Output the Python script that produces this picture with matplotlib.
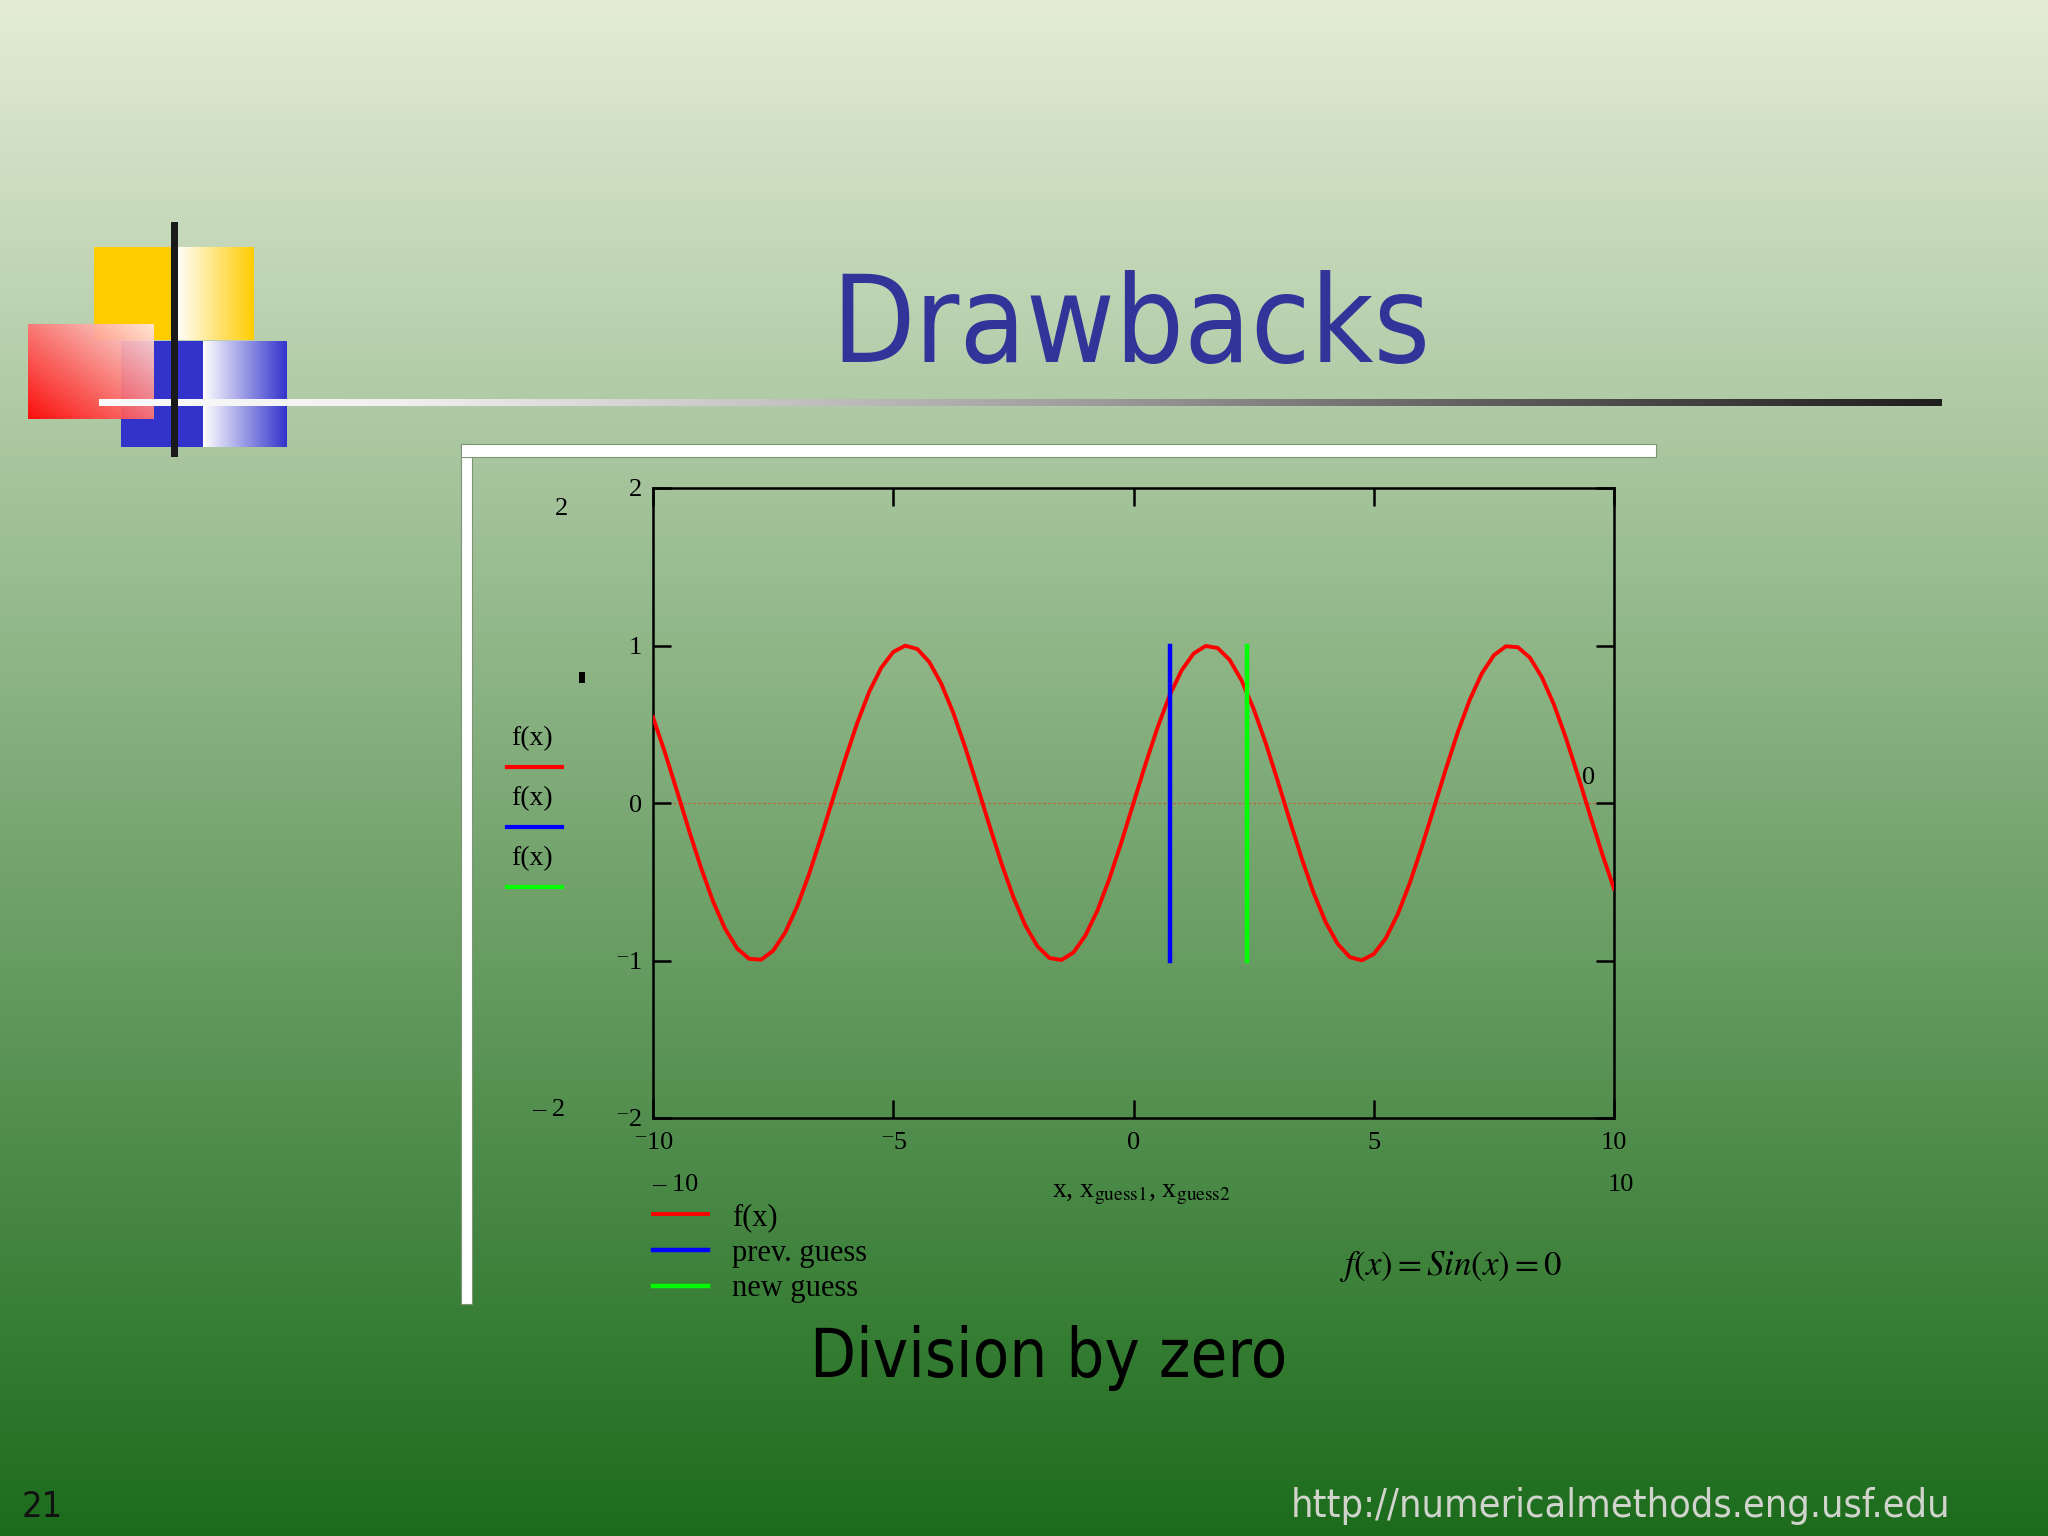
import numpy as np
import matplotlib
matplotlib.use("Agg")
import matplotlib.pyplot as plt
from matplotlib import font_manager as fm
from matplotlib.patches import Rectangle
from matplotlib.lines import Line2D

# ---------------- data ----------------
x_vals = [-10.0, -9.75, -9.5, -9.25, -9.0, -8.75, -8.5, -8.25, -8.0, -7.75,
          -7.5, -7.25, -7.0, -6.75, -6.5, -6.25, -6.0, -5.75, -5.5, -5.25,
          -5.0, -4.75, -4.5, -4.25, -4.0, -3.75, -3.5, -3.25, -3.0, -2.75,
          -2.5, -2.25, -2.0, -1.75, -1.5, -1.25, -1.0, -0.75, -0.5, -0.25,
          0.0, 0.25, 0.5, 0.75, 1.0, 1.25, 1.5, 1.75, 2.0, 2.25,
          2.5, 2.75, 3.0, 3.25, 3.5, 3.75, 4.0, 4.25, 4.5, 4.75,
          5.0, 5.25, 5.5, 5.75, 6.0, 6.25, 6.5, 6.75, 7.0, 7.25,
          7.5, 7.75, 8.0, 8.25, 8.5, 8.75, 9.0, 9.25, 9.5, 9.75, 10.0]
fx_vals = [0.544, 0.319, 0.075, -0.174, -0.412, -0.625, -0.798, -0.923, -0.989, -0.995,
           -0.938, -0.823, -0.657, -0.450, -0.215, 0.033, 0.279, 0.508, 0.706, 0.859,
           0.959, 0.999, 0.978, 0.895, 0.757, 0.572, 0.351, 0.108, -0.141, -0.382,
           -0.598, -0.778, -0.909, -0.984, -0.997, -0.949, -0.841, -0.682, -0.479, -0.247,
           0.0, 0.247, 0.479, 0.682, 0.841, 0.949, 0.997, 0.984, 0.909, 0.778,
           0.598, 0.382, 0.141, -0.108, -0.351, -0.572, -0.757, -0.895, -0.978, -0.999,
           -0.959, -0.859, -0.706, -0.508, -0.279, -0.033, 0.215, 0.450, 0.657, 0.823,
           0.938, 0.995, 0.989, 0.923, 0.798, 0.625, 0.412, 0.174, -0.075, -0.319, -0.544]
guess_names = ["prev. guess", "new guess"]
guess_x = [0.77, 2.37]
guess_span = [-1.0, 1.0]
x_ticks = [-10, -5, 0, 5, 10]
x_tick_labels = ["\u207b10", "\u207b5", "0", "5", "10"]
y_ticks = [-2, -1, 0, 1, 2]
y_tick_labels = ["\u207b2", "\u207b1", "0", "1", "2"]

title_text = "Drawbacks"
caption_text = "Division by zero"
slide_no = "21"
url_text = "http://numericalmethods.eng.usf.edu"

# ---------------- fonts ----------------
SERIF = ["Liberation Serif", "DejaVu Serif"]
plt.rcParams["mathtext.fontset"] = "stix"

def condensed_available():
    try:
        p = fm.findfont(fm.FontProperties(family="DejaVu Sans", stretch="condensed"),
                        fallback_to_default=False)
        return "Condensed" in p
    except Exception:
        return False

COND = condensed_available()
def sans(size):
    if COND:
        return fm.FontProperties(family="DejaVu Sans", stretch="condensed", size=size)
    return fm.FontProperties(family="DejaVu Sans", size=size * 0.92)

# ---------------- figure & background ----------------
W, H = 2048, 1536
fig = plt.figure(figsize=(W / 100, H / 100), dpi=100)
bg = fig.add_axes([0, 0, 1, 1])
bg.set_xlim(0, W)
bg.set_ylim(H, 0)
bg.set_autoscale_on(False)
bg.axis("off")

top_c = np.array([228, 236, 214]) / 255.0
bot_c = np.array([28, 108, 28]) / 255.0
t = np.linspace(0, 1, 512)[:, None, None]
bg.imshow(top_c * (1 - t) + bot_c * t, extent=(0, W, H, 0), aspect="auto",
          interpolation="bilinear", zorder=0)

def hgrad(x0, x1, y0, y1, c_left, c_right, z):
    tt = np.linspace(0, 1, 256)[None, :, None]
    img = np.array(c_left) * (1 - tt) + np.array(c_right) * tt
    bg.imshow(img, extent=(x0, x1, y1, y0), aspect="auto", interpolation="bilinear", zorder=z)

gold = np.array([255, 204, 0]) / 255.0
blue = np.array([51, 51, 204]) / 255.0
white = np.array([1.0, 1.0, 1.0])

# logo: yellow square
bg.add_patch(Rectangle((94, 247), 82, 93, facecolor=gold, edgecolor="none", zorder=1))
hgrad(176, 254, 247, 340, white, gold, 1)
# blue rectangle
bg.add_patch(Rectangle((121, 341), 82, 106, facecolor=blue, edgecolor="none", zorder=2))
hgrad(203, 287, 341, 447, white, blue, 2)
# red square (diagonal gradient)
nx, ny = 128, 96
u = np.linspace(0, 1, nx)[None, :]
v = np.linspace(0, 1, ny)[:, None]
tr = ((1 - u) + v) / 2.0
pink = np.array([255, 232, 228]) / 255.0
red = np.array([255, 0, 0]) / 255.0
rimg = pink[None, None, :] * (1 - tr[..., None]) + red[None, None, :] * tr[..., None]
rimg = np.concatenate([rimg, np.full((ny, nx, 1), 0.93)], axis=2)
bg.imshow(rimg, extent=(28, 154, 419, 324), aspect="auto", interpolation="bilinear", zorder=3)

# horizontal rule with gradient
stops_x = [99, 400, 780, 1100, 1480, 1942]
stops_v = [250, 240, 195, 155, 95, 30]
xs = np.linspace(99, 1942, 600)
vals = np.interp(xs, stops_x, stops_v) / 255.0
rule = np.repeat(vals[None, :, None], 3, axis=2)
bg.imshow(rule, extent=(99, 1942, 406, 399), aspect="auto", interpolation="bilinear", zorder=4)
# black vertical bar
bg.add_patch(Rectangle((171, 222), 7, 235, facecolor="#1a1a1a", edgecolor="none", zorder=5))

# title
bg.text(1131, 362, title_text, ha="center", va="baseline", color="#333399",
        fontproperties=sans(87), zorder=6)

# white frame around chart
bg.add_patch(Rectangle((461, 444), 11, 860, facecolor="white", edgecolor="#7f9477", lw=0.8, zorder=2))
bg.add_patch(Rectangle((461, 444), 1195, 13, facecolor="white", edgecolor="#7f9477", lw=0.8, zorder=2))
bg.add_patch(Rectangle((461.6, 444.6), 10, 12, facecolor="white", edgecolor="none", zorder=3))

# ---------------- chart ----------------
L, R, T, B = 653, 1614, 488, 1118
ax = fig.add_axes([L / W, 1 - B / H, (R - L) / W, (B - T) / H])
ax.set_facecolor("none")
ax.axhline(0, color="#c0603a", lw=0.9, ls=(0, (2, 2)), zorder=1)
line_f, = ax.plot(x_vals, fx_vals, color="#ff0000", lw=2.8, zorder=3, label="f(x)")
guess_lines = []
for xg, col, name in zip(guess_x, ["#0000ff", "#00ff00"], guess_names):
    ln, = ax.plot([xg, xg], guess_span, color=col, lw=3.2, zorder=4, label=name)
    guess_lines.append(ln)
ax.set_xlim(-10, 10)
ax.set_ylim(-2, 2)
ax.set_xticks(x_ticks, x_tick_labels)
ax.set_yticks(y_ticks, y_tick_labels)
ax.tick_params(direction="in", length=13, width=1.8, top=True, right=True,
               labelsize=19, colors="black")
ax.tick_params(axis="x", pad=10)
ax.tick_params(axis="y", pad=8)
for lbl in ax.get_xticklabels() + ax.get_yticklabels():
    lbl.set_fontfamily(SERIF)
for sp in ax.spines.values():
    sp.set_linewidth(1.8)
    sp.set_color("black")
ax.set_xlabel("x, x$_{\\mathrm{guess1}}$, x$_{\\mathrm{guess2}}$", fontsize=20,
              family=SERIF)
ax.xaxis.set_label_coords((1141 - L) / (R - L), -0.102)

# bottom legend
leg = ax.legend(handles=[line_f] + guess_lines,
                labels=["f(x)"] + guess_names,
                loc="upper left", bbox_to_anchor=(L / W, 1 - 1203 / H),
                bbox_transform=fig.transFigure, frameon=False, borderpad=0,
                borderaxespad=0, handlelength=1.8, handletextpad=0.78,
                labelspacing=0.22, prop=fm.FontProperties(family=SERIF, size=22))

# left legend (label above line)
for yy, col in zip([739, 799, 859], ["#ff0000", "#0000ff", "#00ff00"]):
    bg.text(532, yy, "f(x)", ha="center", va="center", fontsize=20, family=SERIF, zorder=6)
    bg.add_line(Line2D([507, 562], [yy + 28, yy + 28], color=col, lw=3, zorder=6))

# extra range labels
for txt, xx, yy in [("2", 562, 509), ("\u2013 2", 549, 1110), ("\u2013 10", 675, 1185),
                    ("10", 1621, 1185), ("0", 1589, 778)]:
    bg.text(xx, yy, txt, ha="center", va="center", fontsize=19, family=SERIF, zorder=6)
bg.add_patch(Rectangle((579, 672), 6, 11, facecolor="black", edgecolor="none", zorder=6))

# formula
bg.text(1339, 1267, r"$f\left(x\right) = Sin\left(x\right) = 0$", ha="left", va="center",
        fontsize=25, zorder=6)

# caption
bg.text(1049, 1377, caption_text, ha="center", va="baseline", color="black",
        fontproperties=sans(48), zorder=6)

# footer
bg.text(22, 1517, slide_no, ha="left", va="baseline", color="#111111",
        fontproperties=sans(26), zorder=6)
bg.text(1950, 1517, url_text, ha="right", va="baseline", color="#d0d4cc",
        fontproperties=sans(28.4), zorder=6)

fig.savefig("out.png", dpi=100)
